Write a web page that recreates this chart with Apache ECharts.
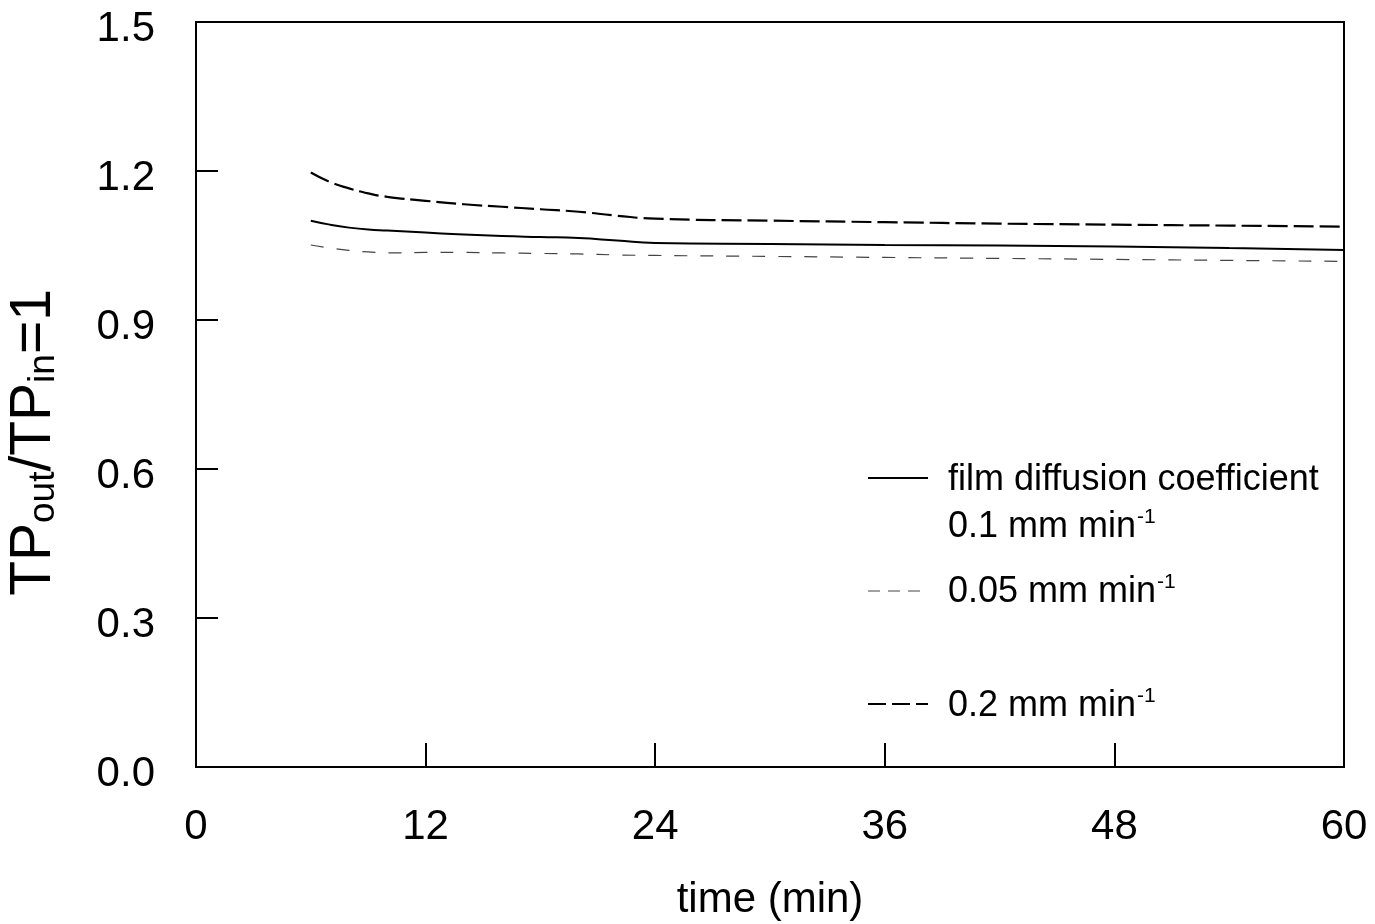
<!DOCTYPE html>
<html>
<head>
<meta charset="utf-8">
<title>TP ratio vs time</title>
<script src="https://cdn.jsdelivr.net/npm/echarts@6/dist/echarts.min.js"></script>
<style>
  html, body { margin: 0; padding: 0; background: #fff; }
  #chart { width: 1375px; height: 924px; }
</style>
</head>
<body>
<div id="chart"></div>
<script>
// time points (min)
const timeMin = [6, 7, 8, 9, 10, 12, 14, 16, 18, 20, 22, 24, 30, 36, 42, 48, 54, 60];

// TP_out / TP_in for each film diffusion coefficient
const coef010 = [1.100, 1.092, 1.086, 1.082, 1.080, 1.076, 1.072, 1.069, 1.067, 1.065, 1.060, 1.055, 1.053, 1.051, 1.050, 1.048, 1.045, 1.041];
const coef005 = [1.051, 1.045, 1.040, 1.037, 1.035, 1.036, 1.036, 1.035, 1.034, 1.033, 1.031, 1.030, 1.028, 1.026, 1.024, 1.022, 1.020, 1.018];
const coef020 = [1.197, 1.178, 1.165, 1.155, 1.148, 1.140, 1.133, 1.128, 1.123, 1.118, 1.110, 1.104, 1.100, 1.097, 1.094, 1.092, 1.090, 1.088];

// axis ticks
const xTicks = [0, 12, 24, 36, 48, 60];
const yTicks = [0.0, 0.3, 0.6, 0.9, 1.2, 1.5];

// legend entries
const legendHeader = 'film diffusion coefficient';
const legendLabels = ['0.1 mm min', '0.05 mm min', '0.2 mm min'];

const FONT = '"Liberation Sans", Arial, Helvetica, sans-serif';

const pairs = ys => timeMin.map((t, i) => [t, ys[i]]);

const styles = {
  solid:  { color: '#000', width: 2, type: 'solid' },
  dotted: { color: '#444', width: 1.2, type: [13, 13] },
  dashed: { color: '#000', width: 2.2, type: [20, 6] }
};

const chart = echarts.init(document.getElementById('chart'), null, { renderer: 'canvas' });

function legendLine(y, st, dash) {
  return {
    type: 'line',
    shape: { x1: 868, y1: y, x2: 928, y2: y },
    style: { stroke: st.color, lineWidth: st.width, lineDash: dash },
    z: 10
  };
}

function legendText(x, y, str, sup) {
  return {
    type: 'text',
    x: x, y: y,
    style: {
      text: sup ? '{a|' + str + '}{s|-1}' : '{a|' + str + '}',
      rich: {
        a: { fontFamily: FONT, fontSize: 36, lineHeight: 42, fill: '#000' },
        s: { fontFamily: FONT, fontSize: 21, lineHeight: 42, verticalAlign: 'top', padding: [1, 0, 0, 1], fill: '#000' }
      },
      verticalAlign: 'middle',
      align: 'left'
    },
    z: 10
  };
}

const option = {
  backgroundColor: '#fff',
  animation: false,
  grid: { left: 196, right: 31, top: 22, bottom: 157, outerBoundsMode: 'none', show: true, borderColor: '#000', borderWidth: 2, backgroundColor: 'transparent' },
  xAxis: {
    type: 'value', min: 0, max: 60, interval: 12,
    name: 'time (min)', nameLocation: 'middle', nameGap: 112,
    nameTextStyle: { fontFamily: FONT, fontSize: 42, color: '#000' },
    axisLine: { show: true, lineStyle: { color: '#000', width: 2 } },
    axisTick: { show: true, inside: true, length: 24, lineStyle: { color: '#000', width: 2 } },
    axisLabel: { margin: 39, fontFamily: FONT, fontSize: 42, color: '#000',
      formatter: v => xTicks.includes(v) ? String(v) : '' },
    splitLine: { show: false }
  },
  yAxis: {
    type: 'value', min: 0, max: 1.5, interval: 0.3,
    name: '{b|TP}{s|out}{b|/TP}{s|in}{b|=1}', nameLocation: 'middle', nameGap: 134, nameRotate: 90,
    nameTextStyle: {
      color: '#000',
      padding: [0, 96, 0, 0],
      rich: {
        b: { fontFamily: FONT, fontSize: 57, lineHeight: 56, color: '#000' },
        s: { fontFamily: FONT, fontSize: 37, lineHeight: 36, verticalAlign: 'bottom', color: '#000' }
      }
    },
    axisLine: { show: true, lineStyle: { color: '#000', width: 2 } },
    axisTick: { show: true, inside: true, length: 22, lineStyle: { color: '#000', width: 2 } },
    axisLabel: { margin: 41, color: '#000',
      rich: { v: { fontFamily: FONT, fontSize: 42, color: '#000', padding: [14, 0, 0, 0] } },
      formatter: v => {
        const t = yTicks.find(k => Math.abs(k - v) < 1e-9);
        return t === undefined ? '' : '{v|' + t.toFixed(1) + '}';
      } },
    splitLine: { show: false }
  },
  series: [
    { name: legendLabels[0], type: 'line', data: pairs(coef010), smooth: true, showSymbol: false, symbol: 'none', lineStyle: styles.solid, z: 3 },
    { name: legendLabels[1], type: 'line', data: pairs(coef005), smooth: true, showSymbol: false, symbol: 'none', lineStyle: styles.dotted, z: 2 },
    { name: legendLabels[2], type: 'line', data: pairs(coef020), smooth: true, showSymbol: false, symbol: 'none', lineStyle: styles.dashed, z: 3 }
  ],
  graphic: [
    legendLine(478, styles.solid, null),
    legendText(948, 480, legendHeader, false),
    legendText(948, 527, legendLabels[0], true),
    legendLine(591, styles.dotted, [12, 8]),
    legendText(948, 592, legendLabels[1], true),
    legendLine(704, styles.dashed, [18, 6]),
    legendText(948, 706, legendLabels[2], true)
  ]
};

chart.setOption(option);
</script>
</body>
</html>
